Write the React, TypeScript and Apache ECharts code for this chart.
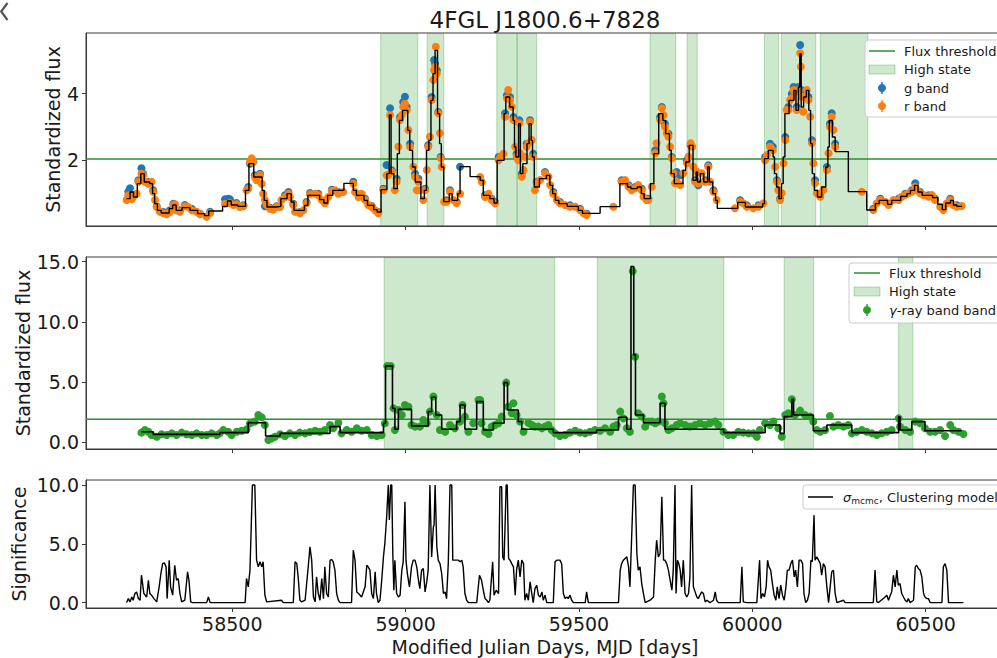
import React, { useEffect, useRef } from 'react';
import * as echarts from 'echarts';

const X_MIN = 58078;
const X_MAX = 60726;
const xTicks = [58500, 59000, 59500, 60000, 60500];
const opticalTicks = [2, 4];
const gammaTicks = [0, 5, 10, 15];
const sigTicks = [0, 5, 10];
const opticalThreshold = 2.04;
const gammaThreshold = 1.89;

const opticalHighStates = [
  [58928, 59035], [59062, 59110], [59263, 59321], [59322, 59378], [59705, 59779],
  [59812, 59841], [60035, 60076], [60084, 60183], [60196, 60333],
];
const gammaHighStates = [[58938, 59430], [59553, 59918], [60092, 60177], [60422, 60463]];

const gBand = [
  [58200, 1.06], [58205, 1.16], [58214, 0.95], [58229, 1.4], [58238, 1.76], [58243, 1.6], [58258, 1.35], [58272, 1.1],
  [58282, 0.62], [58301, 0.45], [58320, 0.5], [58330, 0.7], [58349, 0.5], [58363, 0.66], [58383, 0.55], [58407, 0.4],
  [58436, 0.46], [58479, 0.83], [58488, 0.85], [58493, 0.83], [58503, 0.68], [58512, 0.72], [58532, 0.65], [58546, 1.2],
  [58551, 1.9], [58556, 2.0], [58565, 1.55], [58580, 1.6], [58594, 0.62], [58609, 0.58], [58628, 0.62], [58652, 0.95],
  [58662, 1.05], [58676, 0.7], [58695, 0.45], [58714, 0.75], [58724, 1.02], [58748, 1.0], [58767, 0.75], [58787, 1.12],
  [58806, 1.05], [58849, 1.36], [58864, 0.95], [58883, 0.85], [58902, 0.63], [58921, 0.45], [58936, 1.15], [58945, 1.86],
  [58955, 3.56], [58960, 1.7], [58974, 1.45], [58984, 3.3], [58993, 3.75], [58998, 3.91], [59003, 3.6], [59013, 2.5],
  [59027, 1.6], [59037, 1.45], [59056, 1.15], [59065, 2.45], [59075, 3.9], [59082, 5.01], [59085, 4.9], [59090, 4.7],
  [59094, 3.45], [59101, 2.1], [59118, 0.8], [59128, 1.1], [59147, 0.75], [59157, 1.81], [59229, 0.95], [59248, 0.85],
  [59258, 0.75], [59268, 2.1], [59287, 3.41], [59292, 3.95], [59301, 3.9], [59311, 3.3], [59320, 2.2], [59328, 3.2],
  [59335, 1.6], [59349, 2.5], [59359, 3.2], [59368, 2.2], [59378, 1.35], [59402, 1.65], [59426, 1.05], [59445, 0.75],
  [59474, 0.65], [59503, 0.55], [59522, 0.4], [59623, 1.4], [59643, 1.25], [59662, 1.2], [59681, 1.15], [59700, 0.85],
  [59720, 2.3], [59734, 3.3], [59739, 3.6], [59748, 3.1], [59758, 2.8], [59768, 2.1], [59777, 1.6], [59782, 1.65],
  [59792, 1.55], [59811, 2.0], [59822, 2.45], [59835, 1.4], [59844, 1.25], [59864, 1.4], [59873, 1.85], [59888, 1.1],
  [59965, 0.8], [59984, 0.65], [60018, 0.65], [60037, 2.1], [60051, 2.5], [60059, 2.41], [60071, 1.4], [60080, 0.85],
  [60095, 2.7], [60104, 3.6], [60114, 4.0], [60119, 4.2], [60128, 3.6], [60133, 4.2], [60138, 5.46], [60143, 4.1],
  [60152, 4.0], [60162, 3.9], [60172, 2.6], [60181, 1.4], [60196, 0.95], [60215, 1.8], [60224, 3.1], [60229, 3.41],
  [60239, 2.5], [60349, 0.55], [60369, 0.85], [60393, 0.7], [60422, 0.85], [60441, 1.0], [60460, 1.1], [60470, 1.31],
  [60484, 1.05], [60508, 0.95], [60527, 0.85], [60551, 0.55], [60571, 0.85], [60590, 0.65],
];

const rBand = [
  [58195, 0.81], [58200, 0.95], [58205, 0.9], [58210, 0.83], [58214, 0.9], [58224, 1.0], [58229, 1.36], [58238, 1.6],
  [58243, 1.55], [58248, 1.36], [58258, 1.3], [58267, 1.36], [58272, 1.06], [58277, 0.81], [58282, 0.6], [58291, 0.46],
  [58301, 0.41], [58311, 0.38], [58320, 0.45], [58330, 0.66], [58335, 0.68], [58339, 0.5], [58349, 0.46], [58363, 0.62],
  [58373, 0.6], [58383, 0.5], [58397, 0.46], [58407, 0.38], [58426, 0.31], [58436, 0.42], [58479, 0.7], [58493, 0.72],
  [58503, 0.66], [58512, 0.68], [58522, 0.6], [58532, 0.62], [58541, 1.1], [58546, 1.15], [58551, 1.95], [58556, 2.06],
  [58561, 1.95], [58565, 1.5], [58570, 1.4], [58580, 1.56], [58585, 1.3], [58589, 1.0], [58594, 0.81], [58599, 0.66],
  [58609, 0.55], [58618, 0.52], [58628, 0.6], [58638, 0.6], [58642, 0.81], [58652, 0.9], [58662, 1.0], [58666, 0.9],
  [58676, 0.66], [58681, 0.46], [58695, 0.41], [58705, 0.5], [58714, 0.71], [58724, 0.98], [58739, 1.0], [58748, 0.95],
  [58758, 0.81], [58767, 0.71], [58777, 0.9], [58787, 1.08], [58796, 1.1], [58806, 1.0], [58820, 1.05], [58849, 1.3],
  [58854, 1.05], [58864, 0.9], [58873, 1.0], [58883, 0.81], [58892, 0.66], [58902, 0.6], [58912, 0.5], [58921, 0.41],
  [58936, 1.1], [58945, 1.55], [58950, 1.55], [58955, 3.36], [58960, 1.66], [58969, 1.1], [58974, 1.36], [58979, 2.41],
  [58984, 3.21], [58989, 3.36], [58993, 3.6], [58998, 3.7], [59003, 3.5], [59008, 2.91], [59013, 2.41], [59022, 1.81],
  [59027, 1.51], [59032, 1.1], [59037, 1.36], [59041, 1.1], [59051, 0.81], [59056, 1.1], [59061, 1.71], [59065, 2.41],
  [59070, 2.71], [59075, 3.81], [59080, 4.41], [59082, 4.7], [59085, 4.81], [59087, 5.41], [59090, 4.61], [59094, 3.41],
  [59099, 2.81], [59101, 2.06], [59104, 1.81], [59111, 0.76], [59118, 0.76], [59128, 1.06], [59138, 0.81], [59147, 0.71],
  [59157, 1.0], [59215, 1.5], [59220, 1.35], [59229, 0.9], [59239, 1.0], [59248, 0.81], [59258, 0.71], [59268, 2.0],
  [59274, 2.1], [59282, 2.2], [59287, 3.31], [59292, 3.86], [59296, 4.11], [59301, 3.81], [59306, 3.61], [59311, 3.21],
  [59316, 2.41], [59320, 2.11], [59325, 2.0], [59328, 3.11], [59330, 2.21], [59335, 1.51], [59340, 1.71], [59344, 2.11],
  [59349, 2.41], [59354, 2.51], [59359, 3.16], [59364, 2.61], [59368, 2.11], [59373, 1.1], [59378, 1.31], [59388, 1.41],
  [59402, 1.61], [59412, 1.51], [59417, 1.26], [59426, 1.0], [59436, 0.81], [59445, 0.71], [59460, 0.66], [59474, 0.61],
  [59489, 0.61], [59503, 0.51], [59513, 0.41], [59522, 0.36], [59599, 0.61], [59623, 1.36], [59633, 1.41], [59643, 1.21],
  [59652, 1.1], [59662, 1.16], [59671, 1.26], [59681, 1.1], [59686, 0.91], [59695, 0.81], [59700, 0.81], [59710, 1.21],
  [59720, 2.21], [59724, 2.51], [59734, 3.21], [59739, 3.56], [59744, 3.36], [59748, 3.01], [59753, 2.81], [59758, 2.71],
  [59763, 2.41], [59768, 2.06], [59772, 1.61], [59777, 1.31], [59782, 1.36], [59792, 1.26], [59801, 1.61], [59811, 1.91],
  [59816, 2.11], [59822, 2.51], [59827, 2.41], [59830, 1.81], [59835, 1.36], [59840, 1.66], [59844, 1.31], [59854, 1.61],
  [59864, 1.36], [59873, 1.81], [59878, 1.36], [59888, 1.06], [59897, 0.81], [59950, 0.56], [59965, 0.76], [59974, 0.71],
  [59984, 0.61], [60003, 0.56], [60018, 0.61], [60032, 0.71], [60037, 2.0], [60042, 2.16], [60051, 2.41], [60059, 2.3],
  [60066, 1.81], [60071, 1.36], [60075, 1.1], [60080, 0.81], [60085, 1.01], [60090, 1.91], [60095, 2.61], [60099, 3.51],
  [60104, 3.51], [60109, 3.81], [60114, 3.86], [60119, 4.11], [60123, 4.06], [60128, 3.51], [60133, 4.11], [60138, 5.21],
  [60140, 4.81], [60143, 3.91], [60147, 3.46], [60152, 3.91], [60157, 4.11], [60162, 3.81], [60167, 3.31], [60172, 2.51],
  [60176, 1.91], [60181, 1.31], [60186, 1.01], [60196, 0.91], [60205, 1.11], [60215, 1.71], [60220, 2.21], [60224, 3.01],
  [60229, 3.31], [60234, 2.91], [60239, 2.41], [60316, 1.06], [60349, 0.51], [60359, 0.71], [60369, 0.81], [60383, 0.76],
  [60393, 0.66], [60407, 0.81], [60422, 0.81], [60431, 0.91], [60441, 0.96], [60450, 1.01], [60460, 1.06], [60470, 1.21],
  [60474, 1.11], [60484, 1.01], [60494, 0.96], [60508, 0.91], [60518, 0.96], [60527, 0.81], [60542, 0.61], [60551, 0.51],
  [60561, 0.71], [60571, 0.81], [60580, 0.66], [60590, 0.61], [60604, 0.63],
];

const opticalBlocks = [
  [58195, 0.85], [58205, 1.05], [58215, 0.9], [58226, 1.3], [58236, 1.6], [58246, 1.35], [58262, 1.3], [58270, 1.0],
  [58276, 0.7], [58284, 0.5], [58295, 0.42], [58318, 0.55], [58328, 0.66], [58338, 0.5], [58355, 0.58], [58378, 0.5],
  [58400, 0.4], [58420, 0.34], [58432, 0.48], [58472, 0.62], [58486, 0.78], [58497, 0.66], [58516, 0.62], [58538, 1.1],
  [58548, 1.9], [58562, 1.5], [58578, 1.5], [58586, 1.1], [58592, 0.8], [58600, 0.6], [58626, 0.62], [58640, 0.85],
  [58658, 1.0], [58670, 0.75], [58678, 0.5], [58708, 0.65], [58718, 0.95], [58752, 0.82], [58764, 0.72], [58775, 0.95],
  [58790, 1.1], [58822, 1.31], [58849, 1.1], [58858, 0.95], [58880, 0.8], [58890, 0.65], [58908, 0.52], [58918, 0.45],
  [58929, 1.12], [58946, 1.6], [58953, 3.36], [58958, 1.6], [58966, 1.15], [58976, 2.2], [58982, 3.2], [58991, 3.5],
  [59006, 2.9], [59012, 2.3], [59020, 1.8], [59028, 1.35], [59044, 0.85], [59054, 1.1], [59060, 2.3], [59067, 2.6],
  [59073, 3.8], [59079, 4.6], [59085, 5.3], [59092, 3.4], [59098, 2.5], [59103, 1.8], [59110, 0.76], [59126, 1.0],
  [59134, 0.8], [59150, 1.0], [59157, 1.81], [59186, 1.51], [59215, 1.4], [59224, 0.95], [59243, 0.85], [59255, 0.72],
  [59264, 2.0], [59284, 3.4], [59289, 3.9], [59300, 3.6], [59310, 3.2], [59314, 2.4], [59318, 2.1], [59326, 3.1],
  [59331, 1.6], [59338, 1.9], [59350, 2.5], [59356, 3.1], [59362, 2.6], [59366, 2.1], [59371, 1.2], [59386, 1.45],
  [59406, 1.55], [59416, 1.25], [59424, 1.0], [59432, 0.8], [59442, 0.7], [59466, 0.62], [59498, 0.5], [59510, 0.41],
  [59561, 0.61], [59618, 1.3], [59640, 1.2], [59650, 1.15], [59668, 1.2], [59680, 1.0], [59688, 0.85], [59706, 1.3],
  [59716, 2.2], [59730, 3.4], [59742, 3.2], [59750, 2.8], [59761, 2.3], [59766, 1.6], [59775, 1.3], [59800, 1.7],
  [59808, 1.95], [59818, 2.45], [59829, 1.4], [59838, 1.65], [59842, 1.35], [59850, 1.6], [59860, 1.35], [59871, 1.8],
  [59876, 1.35], [59886, 1.0], [59894, 0.8], [59899, 0.56], [59958, 0.74], [59980, 0.6], [60030, 0.7], [60035, 2.05],
  [60046, 2.3], [60060, 2.1], [60064, 1.6], [60070, 1.2], [60077, 0.85], [60084, 1.3], [60089, 2.1], [60094, 3.4],
  [60106, 3.8], [60120, 4.1], [60126, 3.5], [60133, 4.2], [60137, 5.2], [60141, 3.6], [60148, 3.9], [60156, 4.1],
  [60163, 3.5], [60168, 2.5], [60173, 1.6], [60179, 1.1], [60188, 0.9], [60200, 1.2], [60212, 1.8], [60218, 2.4],
  [60222, 3.2], [60231, 2.7], [60239, 2.26], [60277, 1.06], [60330, 0.51], [60355, 0.7], [60366, 0.8], [60390, 0.68],
  [60402, 0.8], [60428, 0.92], [60446, 1.0], [60456, 1.1], [60468, 1.25], [60478, 1.05], [60490, 0.95], [60520, 0.88],
  [60535, 0.68], [60548, 0.52], [60558, 0.72], [60572, 0.8], [60580, 0.66], [60590, 0.62], [60605, 0.62],
];

const gammaFlux = [
  [58238, 0.78], [58248, 1.0], [58258, 0.86], [58267, 0.58], [58282, 0.44], [58296, 0.64], [58311, 0.58], [58325, 0.72],
  [58339, 0.58], [58354, 0.78], [58368, 0.64], [58383, 0.58], [58397, 0.72], [58412, 0.58], [58426, 0.58], [58440, 0.72],
  [58455, 0.58], [58464, 0.72], [58474, 1.0], [58488, 0.86], [58498, 0.58], [58513, 0.86], [58527, 0.94], [58541, 1.05],
  [58551, 1.55], [58565, 1.7], [58575, 2.25], [58585, 2.05], [58594, 1.42], [58604, 0.17], [58613, 0.3], [58623, 0.44],
  [58638, 0.64], [58652, 0.5], [58666, 0.72], [58681, 0.58], [58695, 0.78], [58710, 0.72], [58724, 0.83], [58739, 0.94],
  [58753, 0.86], [58767, 1.0], [58782, 1.42], [58791, 1.14], [58806, 1.6], [58815, 0.72], [58830, 1.0], [58844, 0.86],
  [58859, 1.14], [58873, 0.94], [58888, 1.0], [58902, 0.58], [58917, 0.5], [58931, 0.58], [58940, 1.55], [58947, 6.33],
  [58957, 6.33], [58965, 2.8], [58969, 1.0], [58979, 2.67], [58989, 2.25], [58998, 3.08], [59008, 2.94], [59017, 1.42],
  [59027, 1.28], [59041, 1.28], [59051, 1.83], [59061, 1.56], [59070, 2.53], [59080, 3.78], [59090, 2.25], [59099, 1.0],
  [59114, 0.86], [59128, 1.42], [59142, 1.14], [59157, 1.7], [59164, 3.08], [59171, 2.11], [59181, 0.86], [59195, 1.56],
  [59210, 3.5], [59215, 3.5], [59219, 1.56], [59229, 0.86], [59239, 0.67], [59248, 1.28], [59258, 1.42], [59268, 1.56],
  [59277, 2.11], [59290, 4.94], [59296, 2.94], [59306, 2.39], [59311, 3.22], [59320, 2.25], [59330, 1.7], [59340, 0.86],
  [59354, 1.61], [59364, 1.42], [59373, 1.28], [59383, 1.28], [59393, 1.14], [59402, 1.28], [59412, 1.42], [59421, 1.0],
  [59431, 0.72], [59445, 0.5], [59460, 0.58], [59474, 0.78], [59489, 0.94], [59503, 0.78], [59518, 0.72], [59532, 0.86],
  [59546, 1.0], [59561, 0.94], [59575, 1.14], [59590, 0.86], [59599, 1.28], [59609, 1.42], [59619, 2.53], [59628, 1.97],
  [59638, 1.14], [59647, 0.86], [59655, 14.2], [59662, 7.1], [59671, 2.39], [59681, 2.11], [59691, 1.28], [59700, 1.7],
  [59710, 1.7], [59720, 1.56], [59729, 1.7], [59739, 3.78], [59744, 3.22], [59748, 1.56], [59758, 1.0], [59768, 1.14],
  [59782, 1.42], [59792, 1.56], [59806, 1.42], [59820, 1.28], [59835, 1.42], [59849, 1.56], [59864, 1.42], [59878, 1.56],
  [59893, 1.7], [59902, 1.42], [59917, 0.86], [59931, 0.58], [59945, 0.58], [59960, 0.86], [59974, 0.78], [59989, 0.72],
  [60003, 0.72], [60013, 0.44], [60022, 1.0], [60037, 1.56], [60051, 1.42], [60061, 1.7], [60075, 1.14], [60085, 0.44],
  [60095, 2.25], [60104, 2.39], [60114, 3.56], [60123, 2.25], [60138, 2.61], [60152, 2.25], [60167, 2.11], [60176, 1.7],
  [60186, 1.0], [60196, 0.86], [60210, 1.0], [60224, 2.17], [60234, 1.28], [60248, 1.42], [60263, 1.28], [60277, 1.42],
  [60287, 0.72], [60301, 0.86], [60316, 1.0], [60330, 0.86], [60345, 0.72], [60359, 0.58], [60373, 0.72], [60388, 0.86],
  [60402, 1.0], [60422, 1.97], [60426, 1.28], [60441, 1.0], [60455, 0.86], [60470, 1.7], [60484, 1.56], [60498, 1.14],
  [60513, 0.86], [60527, 0.86], [60542, 1.0], [60556, 0.5], [60571, 1.42], [60580, 1.0], [60595, 0.86], [60609, 0.67],
];

const gammaBlocks = [
  [58238, 0.86], [58272, 0.64], [58464, 0.78], [58546, 1.6], [58596, 0.5], [58638, 0.72], [58782, 1.28], [58811, 0.78],
  [58936, 1.55], [58942, 6.33], [58962, 2.8], [58969, 1.06], [58979, 2.72], [59017, 1.33], [59065, 2.53], [59075, 3.72],
  [59087, 2.25], [59104, 1.06], [59147, 1.7], [59157, 3.08], [59171, 1.06], [59205, 3.36], [59224, 1.0], [59253, 1.56],
  [59284, 4.94], [59294, 2.67], [59325, 1.7], [59335, 1.06], [59426, 0.78], [59551, 1.0], [59614, 2.06], [59638, 1.06],
  [59650, 14.6], [59658, 7.25], [59663, 2.25], [59686, 1.6], [59734, 3.22], [59748, 1.06], [59917, 0.78], [60037, 1.42],
  [60080, 0.72], [60092, 2.11], [60114, 3.56], [60119, 2.25], [60176, 0.94], [60215, 1.42], [60287, 0.78], [60422, 2.1],
  [60426, 1.0], [60460, 1.7], [60498, 0.94], [60604, 0.94],
];

const significance = [
  [58195, 0], [58200, 0.34], [58205, 0.06], [58210, 0.48], [58214, 0.2], [58219, 0.77], [58224, 0.91], [58229, 0.34],
  [58234, 0.2], [58238, 2.33], [58245, 0.77], [58253, 0.48], [58258, 1.9], [58262, 0.77], [58267, 0.63], [58274, 0.34],
  [58282, 0.06], [58289, 1.34], [58294, 2.47], [58299, 3.32], [58304, 3.38], [58309, 3.04], [58312, 0.34], [58315, 1.9],
  [58318, 3.61], [58322, 1.34], [58328, 0.63], [58334, 3.18], [58339, 1.9], [58344, 2.05], [58349, 0.77], [58354, 0.06],
  [58363, 0.2], [58371, 2.61], [58375, 1.9], [58380, 0.06], [58385, 0], [58426, 0], [58431, 0.48], [58436, 0],
  [58537, 0], [58541, 2.05], [58546, 1.34], [58551, 2.76], [58558, 10], [58565, 10], [58570, 3.61], [58575, 3.04],
  [58580, 3.47], [58585, 3.04], [58589, 3.47], [58594, 0.63], [58599, 0.06], [58642, 0.2], [58647, 0], [58676, 0],
  [58681, 3.47], [58686, 3.32], [58690, 2.19], [58695, 0.2], [58700, 0.06], [58710, 0.2], [58719, 3.04], [58724, 4.74],
  [58729, 3.61], [58734, 0.48], [58739, 0.06], [58743, 2.19], [58748, 0.77], [58753, 0.2], [58758, 2.05], [58763, 0.34],
  [58767, 3.04], [58772, 0.77], [58777, 0.48], [58782, 3.61], [58787, 3.66], [58791, 3.47], [58796, 2.76], [58801, 0.77],
  [58806, 0.2], [58811, 0], [58844, 0], [58849, 4.46], [58854, 3.61], [58859, 0.91], [58864, 0.77], [58873, 0.48],
  [58883, 1.34], [58888, 3.18], [58892, 3.04], [58897, 2.76], [58902, 0.77], [58907, 0.34], [58912, 2.61], [58916, 0.77],
  [58921, 0], [58926, 0.2], [58931, 1.9], [58936, 3.89], [58940, 5.03], [58945, 7.16], [58950, 10], [58953, 7.02],
  [58957, 10], [58960, 10], [58963, 4.18], [58966, 1.05], [58969, 3.61], [58974, 0.77], [58979, 0.48], [58984, 0.63],
  [58989, 2.76], [58993, 3.47], [58998, 8.58], [59001, 3.61], [59005, 2.47], [59011, 1.34], [59017, 3.04], [59022, 3.61],
  [59027, 3.61], [59032, 3.04], [59037, 1.9], [59041, 1.19], [59046, 2.76], [59051, 2.9], [59056, 0.91], [59061, 1.76],
  [59065, 2.76], [59070, 10], [59075, 3.89], [59080, 6.45], [59082, 6.59], [59085, 10], [59090, 4.74], [59094, 3.61],
  [59099, 3.32], [59104, 2.47], [59109, 0.77], [59114, 0.91], [59118, 0.34], [59123, 3.32], [59128, 10], [59133, 10],
  [59136, 3.61], [59142, 3.61], [59152, 3.61], [59157, 3.47], [59162, 3.61], [59166, 3.04], [59171, 0.77], [59176, 0.2],
  [59181, 0], [59205, 0], [59213, 2.33], [59219, 1.9], [59224, 1.05], [59229, 0.34], [59234, 0.2], [59239, 0],
  [59243, 0.2], [59251, 3.47], [59255, 0.63], [59261, 1.05], [59268, 0.77], [59272, 9.86], [59277, 9.86], [59280, 3.89],
  [59284, 3.61], [59290, 10], [59293, 10], [59297, 3.75], [59301, 3.61], [59306, 3.32], [59311, 3.04], [59316, 0.63],
  [59320, 2.76], [59325, 3.61], [59330, 2.19], [59335, 3.61], [59340, 3.32], [59344, 0.2], [59349, 0.77], [59354, 0.2],
  [59359, 1.76], [59364, 0.77], [59368, 0], [59373, 1.19], [59378, 1.48], [59383, 0.63], [59388, 0.48], [59393, 0.91],
  [59397, 0.2], [59402, 0.63], [59407, 0], [59426, 0], [59431, 3.47], [59436, 3.61], [59445, 3.61], [59450, 3.32],
  [59455, 0.77], [59460, 0.34], [59465, 0.48], [59469, 0.34], [59474, 0.63], [59479, 0.2], [59484, 0], [59518, 0],
  [59522, 0.91], [59527, 0], [59614, 0], [59619, 2.76], [59623, 3.32], [59628, 3.61], [59638, 3.89], [59643, 3.04],
  [59647, 1.34], [59652, 5.6], [59657, 10], [59662, 10], [59667, 4.18], [59671, 2.76], [59676, 3.04], [59681, 1.62],
  [59686, 0.77], [59691, 0], [59705, 0.2], [59715, 0.48], [59720, 3.61], [59724, 5.31], [59729, 3.89], [59734, 4.18],
  [59739, 9.0], [59744, 3.61], [59748, 3.61], [59753, 3.32], [59758, 2.76], [59763, 1.9], [59768, 1.05], [59772, 2.76],
  [59777, 10], [59780, 0.77], [59784, 3.61], [59788, 3.32], [59792, 2.76], [59796, 1.34], [59801, 3.61], [59806, 0.77],
  [59811, 0.48], [59816, 0.77], [59820, 2.19], [59825, 10], [59830, 1.34], [59835, 0.91], [59840, 0.48], [59844, 0.34],
  [59849, 0.63], [59854, 0.91], [59859, 0.77], [59864, 0.06], [59869, 0.2], [59878, 0], [59888, 0.2], [59893, 0.91],
  [59897, 0.2], [59902, 0], [59965, 0], [59970, 3.04], [59974, 0.06], [59984, 0], [60013, 0], [60021, 3.61],
  [60025, 0.34], [60030, 0.77], [60035, 0.48], [60040, 1.34], [60044, 3.61], [60048, 3.04], [60053, 2.76], [60058, 1.62],
  [60063, 0.63], [60068, 0.2], [60072, 1.34], [60077, 0.34], [60082, 1.48], [60087, 0.63], [60092, 0.2], [60097, 1.34],
  [60101, 2.76], [60106, 2.76], [60111, 3.32], [60116, 3.61], [60121, 2.19], [60125, 2.76], [60130, 1.34], [60135, 3.61],
  [60140, 3.61], [60145, 3.32], [60149, 0.77], [60154, 0], [60159, 0.2], [60164, 0.77], [60169, 3.61], [60173, 3.47],
  [60178, 7.44], [60181, 3.61], [60186, 3.89], [60191, 3.61], [60196, 3.32], [60200, 2.33], [60205, 3.32], [60210, 3.04],
  [60215, 1.34], [60220, 0], [60229, 2.61], [60234, 2.76], [60239, 0.77], [60244, 0], [60263, 0.2], [60268, 0],
  [60349, 0], [60354, 2.76], [60359, 0.06], [60364, 0], [60383, 0.48], [60388, 0.63], [60393, 0.2], [60398, 0.63],
  [60402, 0.91], [60407, 2.33], [60412, 1.34], [60417, 2.76], [60421, 1.48], [60426, 1.62], [60431, 0.77], [60436, 0.48],
  [60441, 0.2], [60446, 0.06], [60450, 0.34], [60455, 0], [60465, 0.2], [60470, 3.04], [60474, 3.18], [60479, 2.9],
  [60484, 2.76], [60489, 2.19], [60494, 0.77], [60498, 0.48], [60503, 0.34], [60508, 0.34], [60513, 0], [60547, 0],
  [60551, 3.04], [60556, 3.32], [60561, 2.76], [60566, 0], [60609, 0],
];

const FONT = 'DejaVu Sans';
const GREEN_LINE = '#2b8f2b';
const BAND_FILL = 'rgba(44,160,44,0.24)';
const BAND_EDGE = 'rgba(44,160,44,0.32)';
const SPINE = '#3a3a3a';
const TXT = '#1a1a1a';

function bandSeries(idx: number, bands: number[][]) {
  return {
    type: 'custom', xAxisIndex: idx, yAxisIndex: idx, z: 0, silent: true, clip: true,
    data: bands, encode: { x: [0, 1] },
    renderItem: (params: any, api: any) => {
      const cs = params.coordSys;
      const x0 = api.coord([api.value(0), 0])[0];
      const x1 = api.coord([api.value(1), 0])[0];
      return {
        type: 'rect',
        shape: { x: x0, y: cs.y, width: x1 - x0, height: cs.height },
        style: { fill: BAND_FILL, stroke: BAND_EDGE, lineWidth: 1 },
      };
    },
  };
}

function xAxisCfg(idx: number, showLabels: boolean) {
  return {
    type: 'value', gridIndex: idx, min: X_MIN, max: X_MAX,
    splitLine: { show: false },
    axisLine: { show: true, onZero: false, lineStyle: { color: SPINE, width: 1 } },
    axisTick: { show: true, customValues: xTicks, length: 4, lineStyle: { color: SPINE, width: 1 } },
    axisLabel: {
      show: showLabels, customValues: xTicks, fontSize: 19, fontFamily: FONT, color: TXT, margin: 6,
      formatter: (v: number) => String(v),
    },
    name: showLabels ? 'Modified Julian Days, MJD [days]' : '',
    nameLocation: 'middle', nameGap: 29, nameMoveOverlap: false,
    nameTextStyle: { fontSize: 19, fontFamily: FONT, color: TXT },
  };
}

function yAxisCfg(idx: number, min: number, max: number, ticks: number[], name: string, gap: number, dec: number) {
  return {
    type: 'value', gridIndex: idx, min, max,
    splitLine: { show: false },
    axisLine: { show: true, onZero: false, lineStyle: { color: SPINE, width: 1 } },
    axisTick: { show: true, customValues: ticks, length: 4, lineStyle: { color: SPINE, width: 1 } },
    axisLabel: {
      customValues: ticks, fontSize: 19, fontFamily: FONT, color: TXT, margin: 7,
      formatter: (v: number) => v.toFixed(dec),
    },
    name, nameLocation: 'middle', nameGap: gap, nameMoveOverlap: false,
    nameTextStyle: { fontSize: 19, fontFamily: FONT, color: TXT },
  };
}

function txt(x: number, y: number, text: string, extra: any = {}) {
  return {
    type: 'text', x, y, z: 100, silent: true,
    style: { text, fontSize: 13, fontFamily: FONT, fill: TXT, align: 'left', verticalAlign: 'middle', ...extra },
  };
}
function box(x: number, y: number, w: number, h: number) {
  return {
    type: 'rect', z: 99, silent: true,
    shape: { x, y, width: w, height: h, r: 3 },
    style: { fill: 'rgba(255,255,255,0.85)', stroke: '#cccccc', lineWidth: 1 },
  };
}
function hline(x1: number, x2: number, y: number, color: string) {
  return { type: 'line', z: 100, silent: true, shape: { x1, y1: y, x2, y2: y }, style: { stroke: color, lineWidth: 1.5 } };
}
function patch(x: number, y: number) {
  return { type: 'rect', z: 100, silent: true, shape: { x, y: y - 4.5, width: 26, height: 9 }, style: { fill: BAND_FILL, stroke: BAND_EDGE, lineWidth: 1 } };
}
function dotMarker(cx: number, cy: number, color: string) {
  return [
    { type: 'line', z: 100, silent: true, shape: { x1: cx, y1: cy - 6, x2: cx, y2: cy + 6 }, style: { stroke: color, lineWidth: 1.5 } },
    { type: 'circle', z: 101, silent: true, shape: { cx, cy, r: 4 }, style: { fill: color } },
  ];
}

export default function App() {
  const ref = useRef<HTMLDivElement>(null);
  useEffect(() => {
    if (!ref.current) return;
    const chart = echarts.init(ref.current, null, { renderer: 'svg' });
    const gridBase = { left: 86, right: -7, show: true, borderColor: SPINE, borderWidth: 1, backgroundColor: 'transparent', containLabel: false, outerBoundsMode: 'none' };
    const option: any = {
      animation: false,
      backgroundColor: '#ffffff',
      grid: [
        { ...gridBase, top: 33, height: 193 },
        { ...gridBase, top: 257, height: 192 },
        { ...gridBase, top: 480, height: 128 },
      ],
      xAxis: [xAxisCfg(0, false), xAxisCfg(1, false), xAxisCfg(2, true)],
      yAxis: [
        yAxisCfg(0, 0.03, 5.82, opticalTicks, 'Standardized flux', 24, 0),
        yAxisCfg(1, -0.58, 15.39, gammaTicks, 'Standardized flux', 54, 1),
        yAxisCfg(2, -0.46, 10.43, sigTicks, 'Significance', 58, 1),
      ],
      series: [
        bandSeries(0, opticalHighStates),
        {
          type: 'line', xAxisIndex: 0, yAxisIndex: 0, z: 1, silent: true, showSymbol: false,
          data: [[X_MIN, opticalThreshold], [X_MAX, opticalThreshold]],
          lineStyle: { color: GREEN_LINE, width: 1.5 },
        },
        {
          type: 'scatter', xAxisIndex: 0, yAxisIndex: 0, z: 3, silent: true, symbolSize: 8,
          data: gBand, itemStyle: { color: '#1f77b4', opacity: 1 },
        },
        {
          type: 'scatter', xAxisIndex: 0, yAxisIndex: 0, z: 4, silent: true, symbolSize: 8,
          data: rBand, itemStyle: { color: '#ff7f0e', opacity: 1 },
        },
        {
          type: 'line', xAxisIndex: 0, yAxisIndex: 0, z: 5, silent: true, showSymbol: false, step: 'end',
          data: opticalBlocks, lineStyle: { color: '#000000', width: 1.4 },
        },
        bandSeries(1, gammaHighStates),
        {
          type: 'line', xAxisIndex: 1, yAxisIndex: 1, z: 1, silent: true, showSymbol: false,
          data: [[X_MIN, gammaThreshold], [X_MAX, gammaThreshold]],
          lineStyle: { color: GREEN_LINE, width: 1.5 },
        },
        {
          type: 'scatter', xAxisIndex: 1, yAxisIndex: 1, z: 3, silent: true, symbolSize: 8,
          data: gammaFlux, itemStyle: { color: '#2ca02c', opacity: 1 },
        },
        {
          type: 'line', xAxisIndex: 1, yAxisIndex: 1, z: 5, silent: true, showSymbol: false, step: 'end',
          data: gammaBlocks, lineStyle: { color: '#000000', width: 1.6 },
        },
        {
          type: 'line', xAxisIndex: 2, yAxisIndex: 2, z: 5, silent: true, showSymbol: false,
          data: significance, lineStyle: { color: '#000000', width: 1.4 },
        },
      ],
      graphic: [
        { type: 'polyline', z: 100, silent: true, shape: { points: [[7.5, 3], [1.2, 11.5], [7.5, 20]] }, style: { stroke: '#555555', lineWidth: 2.2, fill: 'none' } },
        { type: 'text', x: 545, y: 20, z: 100, silent: true, style: { text: '4FGL J1800.6+7828', fontSize: 23, fontFamily: FONT, fill: TXT, align: 'center', verticalAlign: 'middle' } },
        // top legend
        box(865, 40, 150, 77),
        hline(869, 895, 51, GREEN_LINE),
        txt(904, 51, 'Flux threshold'),
        patch(869, 69.5),
        txt(904, 69.5, 'High state'),
        ...dotMarker(882, 88, '#1f77b4'),
        txt(904, 88, 'g band'),
        ...dotMarker(882, 106, '#ff7f0e'),
        txt(904, 106, 'r band'),
        // middle legend
        box(849, 263, 160, 60),
        hline(854, 880, 273, GREEN_LINE),
        txt(889, 273, 'Flux threshold'),
        patch(854, 291.5),
        txt(889, 291.5, 'High state'),
        ...dotMarker(867, 310, '#2ca02c'),
        txt(889, 310, '{i|γ}-ray band band', { rich: { i: { fontStyle: 'italic', fontSize: 13, fontFamily: FONT, fill: TXT } } }),
        // bottom legend
        box(803, 485, 200, 24),
        hline(808, 833, 497, '#000000'),
        txt(843, 497, '{s|σ}{b|mcmc}{n|, Clustering model}', {
          rich: {
            s: { fontStyle: 'italic', fontSize: 13, fontFamily: FONT, fill: TXT, lineHeight: 16 },
            b: { fontSize: 9, fontFamily: FONT, fill: TXT, lineHeight: 9, verticalAlign: 'bottom' },
            n: { fontSize: 13, fontFamily: FONT, fill: TXT, lineHeight: 16 },
          },
        }),
      ],
    };
    chart.setOption(option);
    return () => chart.dispose();
  }, []);
  return (
    <div
      ref={ref}
      style={{ position: 'fixed', left: 0, top: 0, width: 997, height: 658, background: '#ffffff' }}
    />
  );
}
